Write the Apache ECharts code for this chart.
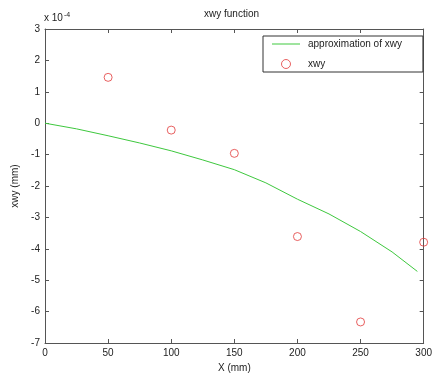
<!DOCTYPE html>
<html>
<head>
<meta charset="utf-8">
<script src="https://cdn.jsdelivr.net/npm/echarts@6/dist/echarts.min.js"></script>
<style>
  html, body { margin: 0; padding: 0; background: #fff; }
  #chart { width: 435px; height: 379px; }
</style>
</head>
<body>
<div id="chart"></div>
<script>
// Measured xwy values at each X position (units of 1e-4 mm)
const sampleX = [50, 100, 150, 200, 250, 300];
const sampleY = [1.46, -0.22, -0.96, -3.61, -6.33, -3.79];

// Fitted approximation curve (units of 1e-4 mm)
const fitX = [0, 25, 50, 75, 100, 125, 150, 175, 200, 225, 250, 275, 295];
const fitY = [0, -0.18, -0.40, -0.63, -0.88, -1.17, -1.48, -1.90, -2.42, -2.89, -3.45, -4.10, -4.72];

// Axis ranges and tick spacing
const xRange = [0, 300];
const xStep = 50;
const yRange = [-7, 3];
const yStep = 1;

const axisColor = '#555';
const textColor = '#222';
const lineColor = '#3ec83e';
const markerColor = '#e23a3a';
const fontFamily = 'Liberation Sans, Arial, sans-serif';

const tickStyle = { show: true, inside: true, length: 4, lineStyle: { color: axisColor } };
const boxLine = { show: true, onZero: false, lineStyle: { color: axisColor, width: 1 } };

const chart = echarts.init(document.getElementById('chart'), null, { renderer: 'canvas' });

chart.setOption({
  backgroundColor: '#fff',
  animation: false,
  textStyle: { fontFamily: fontFamily },
  title: {
    text: 'xwy function',
    left: 204,
    top: 9,
    padding: 0,
    textStyle: { fontSize: 10, fontWeight: 'normal', color: textColor, fontFamily: fontFamily }
  },
  grid: { left: 45, right: 8, top: 29, bottom: 36, containLabel: false },
  legend: {
    orient: 'vertical',
    left: 263,
    top: 36,
    padding: [3, 21, 3, 9],
    itemGap: 10,
    itemWidth: 28,
    itemHeight: 9,
    borderColor: '#333',
    borderWidth: 1,
    backgroundColor: '#fff',
    borderRadius: 0,
    textStyle: { fontSize: 10, color: textColor, fontFamily: fontFamily, padding: [0, 0, 0, 3] },
    data: [
      {
        name: 'approximation of xwy',
        icon: 'path://M0,0 H28 V1 H0 Z',
        itemStyle: { color: lineColor, borderWidth: 0 }
      },
      {
        name: 'xwy',
        icon: 'circle',
        itemStyle: { color: 'rgba(0,0,0,0)', borderColor: markerColor, borderWidth: 1 }
      }
    ]
  },
  graphic: [{
    type: 'text',
    left: 44,
    top: 12,
    style: {
      text: 'x 10{sup|-4}',
      fontSize: 10,
      fill: textColor,
      fontFamily: fontFamily,
      rich: { sup: { fontSize: 7, verticalAlign: 'top', padding: [0, 0, 6, 1], fill: textColor } }
    }
  }],
  xAxis: [{
    type: 'value',
    min: xRange[0],
    max: xRange[1],
    interval: xStep,
    name: 'X (mm)',
    nameLocation: 'middle',
    nameGap: 19,
    nameTextStyle: { fontSize: 10, color: textColor },
    axisLine: boxLine,
    axisTick: tickStyle,
    axisLabel: { fontSize: 10, color: textColor, margin: 5 },
    splitLine: { show: false }
  }, {
    type: 'value',
    position: 'top',
    min: xRange[0],
    max: xRange[1],
    interval: xStep,
    axisLine: boxLine,
    axisTick: tickStyle,
    axisLabel: { show: false },
    splitLine: { show: false }
  }],
  yAxis: [{
    type: 'value',
    min: yRange[0],
    max: yRange[1],
    interval: yStep,
    name: 'xwy (mm)',
    nameLocation: 'middle',
    nameGap: 25,
    nameTextStyle: { fontSize: 10, color: textColor },
    axisLine: boxLine,
    axisTick: tickStyle,
    axisLabel: { fontSize: 10, color: textColor, margin: 5 },
    splitLine: { show: false }
  }, {
    type: 'value',
    position: 'right',
    min: yRange[0],
    max: yRange[1],
    interval: yStep,
    axisLine: boxLine,
    axisTick: tickStyle,
    axisLabel: { show: false },
    splitLine: { show: false }
  }],
  series: [{
    name: 'approximation of xwy',
    type: 'line',
    xAxisIndex: 0,
    yAxisIndex: 0,
    symbol: 'none',
    smooth: false,
    lineStyle: { color: lineColor, width: 1 },
    itemStyle: { color: lineColor },
    data: fitX.map((x, i) => [x, fitY[i]])
  }, {
    name: 'xwy',
    type: 'scatter',
    xAxisIndex: 0,
    yAxisIndex: 0,
    symbol: 'circle',
    symbolSize: 8,
    itemStyle: { color: 'rgba(0,0,0,0)', borderColor: markerColor, borderWidth: 1 },
    data: sampleX.map((x, i) => [x, sampleY[i]])
  }]
});
</script>
</body>
</html>
